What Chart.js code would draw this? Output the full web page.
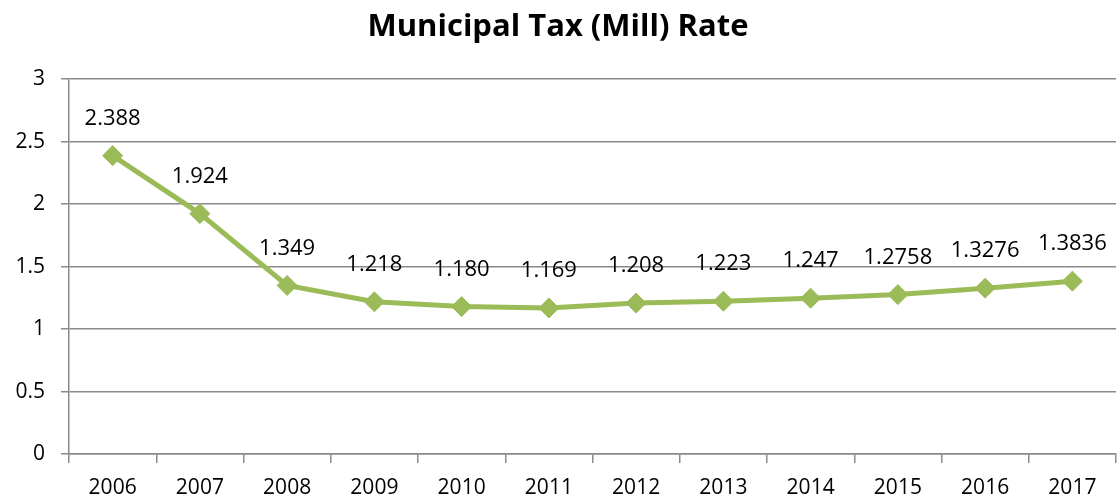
<!DOCTYPE html>
<html>
<head>
<meta charset="utf-8">
<script src="https://cdn.jsdelivr.net/npm/chart.js@4/dist/chart.umd.min.js"></script>
<style>
  html, body { margin: 0; padding: 0; background: #fff; }
  #wrap { width: 1119px; height: 504px; }
</style>
</head>
<body>
<div id="wrap"><canvas id="myChart" width="1119" height="504"></canvas></div>
<script>
var years = ["2006", "2007", "2008", "2009", "2010", "2011", "2012", "2013", "2014", "2015", "2016", "2017"];
// rates as printed above each point
var rateText = ["2.388", "1.924", "1.349", "1.218", "1.180", "1.169", "1.208", "1.223", "1.247", "1.2758", "1.3276", "1.3836"];
var rates = rateText.map(Number);
var yTicks = [0, 0.5, 1, 1.5, 2, 2.5, 3];

var fontName = "'Open Sans', sans-serif";
var gridGray = "#8a8a8a";

// writes the rate text above every point
var pointLabels = {
  id: 'pointLabels',
  afterDatasetsDraw: function(chart) {
    var ctx = chart.ctx;
    var meta = chart.getDatasetMeta(0);
    ctx.save();
    ctx.font = "22px " + fontName;
    ctx.fillStyle = "#000";
    ctx.textAlign = "center";
    ctx.textBaseline = "middle";
    meta.data.forEach(function(pt, i) {
      ctx.fillText(rateText[i], pt.x, pt.y - 37);
    });
    ctx.restore();
  }
};

var ctx = document.getElementById("myChart").getContext('2d');
var myChart = new Chart(ctx, {
  type: 'line',
  data: {
    labels: years,
    datasets: [{
      data: rates,
      borderColor: "#9bbb59",
      backgroundColor: "#9bbb59",
      borderWidth: 5,
      pointStyle: 'rectRot',
      pointRadius: 10,
      pointBorderWidth: 1,
      pointBorderColor: "#9bbb59",
      pointBackgroundColor: "#9bbb59",
      tension: 0
    }]
  },
  options: {
    responsive: false,
    animation: false,
    layout: {
      autoPadding: false,
      padding: { left: 0, right: 3, top: 0, bottom: 0 }
    },
    plugins: {
      legend: { display: false },
      tooltip: { enabled: false },
      title: {
        display: true,
        text: "Municipal Tax (Mill) Rate",
        color: "#000",
        font: { family: fontName, size: 31, weight: 'bold' },
        padding: { top: 9, bottom: 33 }
      }
    },
    scales: {
      x: {
        offset: true,
        grid: {
          offset: true,
          drawOnChartArea: false,
          drawTicks: true,
          tickLength: 9,
          color: gridGray,
          lineWidth: 1.5
        },
        border: { color: gridGray, width: 1.5 },
        ticks: {
          color: "#000",
          padding: 12,
          maxRotation: 0,
          font: { family: fontName, size: 21 }
        },
        afterFit: function(axis) { axis.height = 50; }
      },
      y: {
        min: 0,
        max: 3,
        afterBuildTicks: function(axis) {
          axis.ticks = yTicks.map(function(v) { return { value: v }; });
        },
        grid: {
          color: gridGray,
          lineWidth: 1.5,
          drawTicks: true,
          tickLength: 8
        },
        border: { color: gridGray, width: 1.5 },
        ticks: {
          color: "#000",
          padding: 16,
          font: { family: fontName, size: 21 },
          callback: function(v) { return String(v); }
        },
        afterFit: function(axis) { axis.width = 69; }
      }
    }
  },
  plugins: [pointLabels]
});
</script>
</body>
</html>
